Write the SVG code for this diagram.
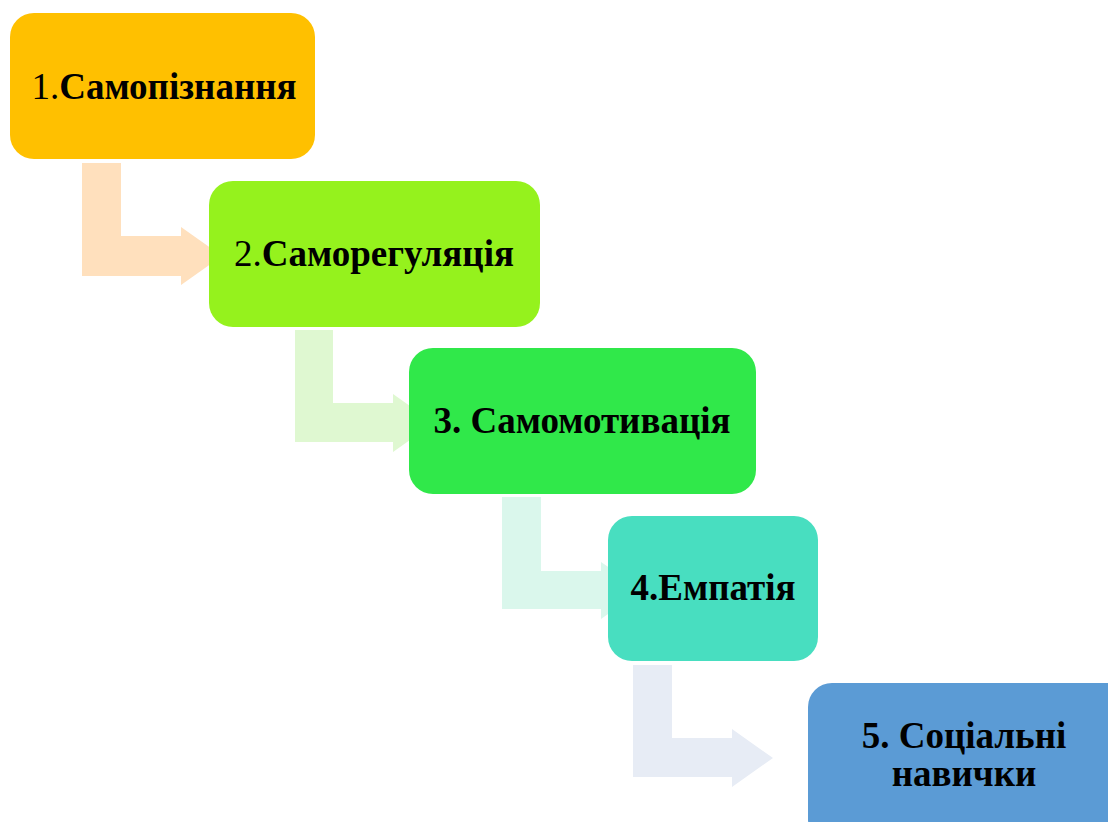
<svg xmlns="http://www.w3.org/2000/svg" width="1108" height="822" viewBox="0 0 1108 822">
<style>
.t{font-family:"Liberation Serif","Times New Roman",serif;font-size:37px;font-weight:bold;fill:#000;text-anchor:middle}
.n{font-weight:normal}
</style>
<rect width="1108" height="822" fill="#fff"/>
<g id="connectors">
<path d="M82,163 H121 V236 H181 V227 L222,256 L181,285 V276 H82 Z" fill="#FFE0BD"/>
<path d="M295,330 H333 V403 H393 V394 L434,423 L393,452 V442 H295 Z" fill="#DFF8D1"/>
<path d="M502,497 H541 V571 H601 V562 L642,590 L601,619 V609 H502 Z" fill="#DAF7EC"/>
<path d="M633,665 H672 V738 H732 V729 L773,758 L732,787 V777 H633 Z" fill="#E7ECF5"/>
</g>
<g id="node1">
<rect x="10" y="13" width="305" height="146" rx="24" fill="#FFC000"/>
<text class="t" x="164" y="99"><tspan class="n">1.</tspan>Самопізнання</text>
</g>
<g id="node2">
<rect x="209" y="181" width="331" height="146" rx="24" fill="#95F21D"/>
<text class="t" x="374" y="266"><tspan class="n">2.</tspan>Саморегуляція</text>
</g>
<g id="node3">
<rect x="409" y="348" width="347" height="146" rx="24" fill="#30E84A"/>
<text class="t" x="582" y="433">3. Самомотивація</text>
</g>
<g id="node4">
<rect x="608" y="516" width="210" height="145" rx="24" fill="#48DEC0"/>
<text class="t" x="713" y="600">4.Емпатія</text>
</g>
<g id="node5">
<rect x="808" y="683" width="330" height="160" rx="24" fill="#5B9BD5"/>
<text class="t" x="964" y="748">5. Соціальні</text>
<text class="t" x="964" y="786">навички</text>
</g>
</svg>
